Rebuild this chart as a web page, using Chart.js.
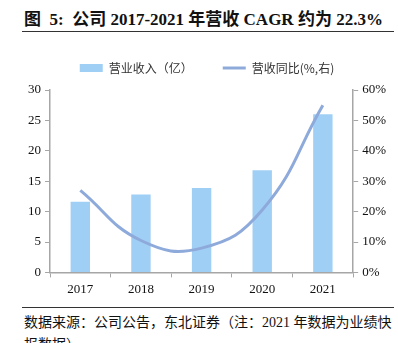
<!DOCTYPE html>
<html>
<head>
  <title>营收 CAGR</title>
  <script src="https://cdn.jsdelivr.net/npm/chart.js"></script>
  <style>
    body { margin: 0; width: 398px; height: 343px; overflow: hidden; background: #fff; font-family: "Liberation Serif", "Noto Sans CJK SC", serif; }
    .title { position: absolute; left: 24px; top: 5px; font-size: 17px; font-weight: bold; color: #111; white-space: nowrap; }
    .rule { position: absolute; left: 22px; width: 372px; height: 1px; background: #333; }
    .box { position: absolute; left: 0; top: 32px; width: 398px; height: 269px; }
    .source { position: absolute; left: 24px; top: 312px; font-size: 14px; color: #111; white-space: nowrap; line-height: 22px; }
  </style>
</head>
<body>
  <div class="title">图&nbsp; 5:&nbsp; 公司 2017-2021 年营收 CAGR 约为 22.3%</div>
  <div class="rule" style="top:31px"></div>
  <div class="box"><canvas id="c" width="398" height="269"></canvas></div>
  <div class="rule" style="top:307px"></div>
  <div class="source">数据来源：公司公告，东北证券（注：2021 年数据为业绩快<br>报数据）</div>

  <script>
    const years = ['2017', '2018', '2019', '2020', '2021'];
    const revenue = [11.6, 12.8, 13.9, 16.8, 26.0];   // 亿
    const growth = [27.0, 10.5, 8.0, 20.5, 55.0];     // %

    const axisGrey = '#a6a6a6';
    const tickFont = { family: 'Liberation Serif', size: 13 };

    // a bit more room under the legend
    const legendGap = {
      id: 'legendGap',
      beforeInit(chart) {
        const fit = chart.legend.fit;
        chart.legend.fit = function () {
          fit.bind(chart.legend)();
          this.height += 6;
        };
      }
    };

    new Chart(document.getElementById('c'), {
      data: {
        labels: years,
        datasets: [{
          type: 'bar',
          label: '营业收入（亿）',
          data: revenue,
          backgroundColor: '#a0cff5',
          barPercentage: 0.32,
          categoryPercentage: 1,
          yAxisID: 'y',
          pointStyle: 'rect',
          order: 2
        }, {
          type: 'line',
          label: '营收同比(%,右)',
          data: growth,
          borderColor: '#8eaadb',
          backgroundColor: '#8eaadb',
          borderWidth: 3,
          tension: 0.45,
          pointRadius: 0,
          fill: false,
          yAxisID: 'y1',
          pointStyle: 'line',
          order: 1
        }]
      },
      options: {
        responsive: false,
        animation: false,
        layout: { padding: { left: 24, right: 8, top: 0, bottom: 0 } },
        plugins: {
          tooltip: { enabled: false },
          legend: {
            labels: {
              usePointStyle: true,
              pointStyleWidth: 23,
              boxHeight: 8,
              padding: 30,
              color: '#333',
              font: { family: 'Noto Sans CJK SC', size: 12 },
              sort: (a, b) => a.datasetIndex - b.datasetIndex
            }
          }
        },
        scales: {
          x: {
            offset: true,
            grid: { display: true, drawOnChartArea: false, offset: true, color: axisGrey, tickLength: 5 },
            border: { color: axisGrey, width: 1.5 },
            ticks: { color: '#111', font: tickFont, padding: 4 }
          },
          y: {
            position: 'left',
            min: 0, max: 30,
            ticks: { stepSize: 5, color: '#111', font: tickFont, padding: 4 },
            grid: { drawOnChartArea: false, color: axisGrey, tickLength: 5 },
            border: { color: axisGrey, width: 1.5 }
          },
          y1: {
            position: 'right',
            min: 0, max: 60,
            ticks: { stepSize: 10, color: '#111', font: tickFont, padding: 4, callback: v => v + '%' },
            grid: { drawOnChartArea: false, color: axisGrey, tickLength: 5 },
            border: { color: axisGrey, width: 1.5 }
          }
        }
      },
      plugins: [legendGap]
    });
  </script>
</body>
</html>
